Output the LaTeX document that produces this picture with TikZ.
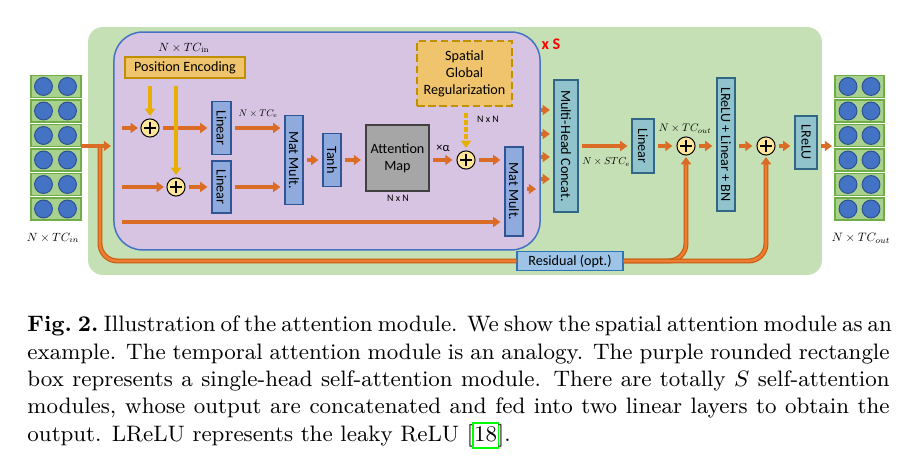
\documentclass[tikz,border=0pt]{standalone}
\usepackage{fontspec}
\setsansfont{Carlito}
\usetikzlibrary{arrows.meta,calc}
\definecolor{bggreen}{RGB}{197,224,180}
\definecolor{purp}{RGB}{214,196,226}
\definecolor{pblue}{RGB}{68,114,196}
\definecolor{cellg}{RGB}{169,209,142}
\definecolor{cellgd}{RGB}{112,173,71}
\definecolor{dotb}{RGB}{68,114,196}
\definecolor{dotbd}{RGB}{47,82,143}
\definecolor{goldf}{RGB}{240,196,108}
\definecolor{goldd}{RGB}{191,144,0}
\definecolor{goldarr}{RGB}{232,174,0}
\definecolor{oran}{RGB}{218,108,38}
\definecolor{orand}{RGB}{197,90,17}
\definecolor{oranm}{RGB}{237,125,49}
\definecolor{boxb}{RGB}{143,170,220}
\definecolor{boxbd}{RGB}{47,85,151}
\definecolor{tealb}{RGB}{145,195,205}
\definecolor{tealbd}{RGB}{49,102,135}
\definecolor{attg}{RGB}{166,166,166}
\definecolor{attgd}{RGB}{64,64,64}
\definecolor{plusy}{RGB}{255,230,153}
\definecolor{resb}{RGB}{157,195,230}
\definecolor{resbd}{RGB}{46,117,182}
\definecolor{linkg}{RGB}{0,255,0}
\newcommand\citebox[1]{\begingroup\setlength\fboxsep{0.2pt}\setlength\fboxrule{0.75pt}\fcolorbox{linkg}{white}{\vphantom{[]}#1}\endgroup}
\newcommand\ml[2]{\scalebox{#1}{$#2$}}
\tikzset{
  lbl/.style={font=\sffamily\fontsize{5.7pt}{6.8pt}\selectfont},
  bbox/.style={draw=boxbd, fill=boxb, line width=0.5pt, inner sep=0pt, lbl},
  tbox/.style={draw=tealbd, fill=tealb, line width=0.5pt, inner sep=0pt, lbl},
  oarr/.style={draw=oran, line width=1.5pt, -{Triangle[length=2.9pt,width=4pt]}, shorten >=1.6pt, shorten <=1.2pt},
  oarrfree/.style={draw=oran, line width=1.5pt, -{Triangle[length=2.9pt,width=4pt]}},
  garr/.style={draw=goldarr, line width=1.5pt, -{Triangle[length=2.9pt,width=4pt]}, shorten >=1pt},
  pipe/.style={draw=orand, line width=0.45pt, double=oranm, double distance=1.1pt, rounded corners=7pt},
  mlbl/.style={font=\fontsize{10pt}{12pt}\selectfont, inner sep=0pt},
  slbl/.style={font=\sffamily\fontsize{4pt}{5pt}\selectfont, inner sep=0pt},
  plusn/.style={circle, draw=black, line width=0.4pt, fill=plusy, minimum size=7.3pt, inner sep=0pt,
    path picture={\draw[line width=0.45pt] ([xshift=-2.3pt]path picture bounding box.center) -- ([xshift=2.3pt]path picture bounding box.center);
                  \draw[line width=0.45pt] ([yshift=-2.3pt]path picture bounding box.center) -- ([yshift=2.3pt]path picture bounding box.center);}},
  cell/.style={draw=cellgd, fill=cellg, line width=0.6pt},
  dot/.style={draw=dotbd, fill=dotb, line width=0.4pt},
}
\begin{document}
\begin{tikzpicture}[x=0.4025pt,y=-0.4025pt]
\useasboundingbox (0,0) rectangle (908,468);
\fill[white] (0,0) rectangle (908,468);

% backgrounds
\node[fill=bggreen, rounded corners=6pt, minimum width=295.4pt, minimum height=99.8pt, inner sep=0pt] (bg) at (455,151) {};
\node[draw=pblue, fill=purp, line width=0.6pt, rounded corners=11.5pt, minimum width=171.5pt, minimum height=87.7pt, inner sep=0pt] (sam) at (327,141) {};
\node[font=\sffamily\bfseries\fontsize{6.5pt}{7pt}\selectfont, text=red, inner sep=0pt] (xs) at (551,44) {x S};

% input / output stacks
\foreach \i in {0,...,5} {
  \pgfmathsetmacro\yy{86.5+24.5*\i}
  \draw[cell] (31,{\yy-11}) rectangle (81,{\yy+11});
  \draw[dot] (43.5,\yy) circle (3.6pt);
  \draw[dot] (67.5,\yy) circle (3.6pt);
  \draw[cell] (835,{\yy-11}) rectangle (884,{\yy+11});
  \draw[dot] (848,\yy) circle (3.6pt);
  \draw[dot] (871,\yy) circle (3.6pt);
}
\node[mlbl] (lin) at (53,238) {\ml{0.48}{N\times TC_{in}}};
\node[mlbl] (lout) at (861,238) {\ml{0.49}{N\times TC_{out}}};

% nodes
\node[draw=goldd, fill=goldf, line width=0.5pt, minimum width=48.3pt, minimum height=8.45pt, inner sep=0pt, lbl] (pe) at (185,67.5) {Position Encoding};
\node[mlbl] (lpe) at (184,48) {\ml{0.48}{N\times TC_{\mathrm{in}}}};
\node[plusn] (p1) at (150,128) {};
\node[plusn] (p2) at (176,187) {};
\node[bbox, minimum width=7.65pt, minimum height=21.3pt] (lin1) at (221.5,128) {\rotatebox{-90}{Linear}};
\node[bbox, minimum width=7.65pt, minimum height=20.9pt] (lin2) at (221.5,187) {\rotatebox{-90}{Linear}};
\node[bbox, minimum width=7.25pt, minimum height=35.8pt] (mm1) at (294,160) {\rotatebox{-90}{Mat Mult.}};
\node[bbox, minimum width=7.25pt, minimum height=21.3pt] (tanh) at (332,160) {\rotatebox{-90}{Tanh}};
\node[draw=attgd, fill=attg, line width=0.8pt, minimum width=25.4pt, minimum height=26.6pt, inner sep=0pt, lbl, align=center] (att) at (397.5,158) {Attention\\Map};
\node[slbl] (lnn1) at (398,198) {N x N};
\node[plusn] (p3) at (466,160) {};
\node[draw=goldd, dashed, dash pattern=on 3pt off 1.5pt, fill=goldf, line width=0.6pt, minimum width=38.2pt, minimum height=26.2pt, inner sep=0pt, lbl, align=center] (sgr) at (464.5,73.5) {Spatial\\Global\\Regularization};
\node[slbl] (lnn2) at (488,119) {N x N};
\node[font=\sffamily\fontsize{5pt}{6pt}\selectfont, inner sep=0pt] (lalpha) at (443,148) {×α};
\node[bbox, minimum width=7.25pt, minimum height=35.8pt] (mm2) at (514,191.5) {\rotatebox{-90}{Mat Mult.}};
\node[tbox, minimum width=9.66pt, minimum height=53.1pt] (cat) at (566,146) {\rotatebox{-90}{Multi-Head Concat.}};
\node[tbox, minimum width=8.86pt, minimum height=21.7pt] (lin3) at (643,146) {\rotatebox{-90}{Linear}};
\node[plusn] (p4) at (686,146) {};
\node[tbox, minimum width=7.25pt, minimum height=53.5pt] (lbn) at (726,144.5) {\rotatebox{-90}{LReLU + Linear + BN}};
\node[plusn] (p5) at (766,146) {};
\node[tbox, minimum width=8.86pt, minimum height=21.3pt] (lrelu) at (806,142.5) {\rotatebox{-90}{LReLU}};
\node[draw=resbd, fill=resb, line width=0.5pt, minimum width=42.7pt, minimum height=7.65pt, inner sep=0pt, lbl] (res) at (570,261) {Residual (opt.)};
\node[mlbl] (lte) at (258,114) {\ml{0.39}{N\times TC_{\mathrm{e}}}};
\node[mlbl] (lstc) at (606,162) {\ml{0.41}{N\times STC_{\mathrm{e}}}};
\node[mlbl] (ltco) at (685,129) {\ml{0.44}{N\times TC_{out}}};

% free coordinates
\coordinate (inE) at (81,146);
\coordinate (inT) at (111,146);
\coordinate (jn) at (100,146);
\coordinate (a1) at (122,128);
\coordinate (a2) at (122,187);
\coordinate (a3) at (122,222);
\coordinate (m2o) at (536,189);
\coordinate (c1) at (541,110);
\coordinate (c2) at (541,134);
\coordinate (c3) at (541,157);
\coordinate (c4) at (541,179);
\coordinate (outW) at (832,146);

% residual pipes
\draw[pipe] (jn) -- (jn |- res.west) -- (res.west);
\draw[pipe] (res.east) -- (res.east -| p4) -- ($(p4.south)+(0,8)$);
\draw[pipe] (res.east) -- (res.east -| p5) -- ($(p5.south)+(0,8)$);
\draw[oarrfree, shorten >=0.6pt] ($(p4.south)+(0,9)$) -- (p4.south);
\draw[oarrfree, shorten >=0.6pt] ($(p5.south)+(0,9)$) -- (p5.south);

% arrows
\draw[oarrfree] (inE) -- (inT);
\draw[oarrfree, shorten >=1pt] (a1) -- (p1.west);
\draw[oarrfree, shorten >=1pt] (a2) -- (p2.west);
\draw[oarr] (p1.east) -- (lin1.west);
\draw[oarr] (p2.east) -- (lin2.west);
\draw[garr] ($(pe.south -| p1)+(0,7)$) -- (p1.north);
\draw[garr] ($(pe.south -| p2)+(0,7)$) -- (p2.north);
\draw[oarr] (lin1.east) -- (lin1.east -| mm1.west);
\draw[oarr] (lin2.east) -- (lin2.east -| mm1.west);
\draw[oarr] (mm1.east |- tanh) -- (tanh.west);
\draw[oarr] (tanh.east) -- (tanh.east -| att.west);
\draw[oarr] (att.east |- p3) -- (p3.west);
\draw[draw=goldarr, line width=1.5pt, dash pattern=on 2pt off 0.8pt, shorten >=1pt] ($(sgr.south -| p3)+(0,6)$) -- ($(p3.north)+(0,-6)$);
\draw[garr] ($(p3.north)+(0,-7)$) -- (p3.north);
\draw[oarr] (p3.east) -- (p3 -| mm2.west);
\draw[oarrfree, shorten >=1.6pt] (a3) -- (a3 -| mm2.west);
\draw[oarrfree, shorten <=1.2pt] (mm2.east |- m2o) -- (m2o);
\foreach \c in {c1,c2,c3,c4} \draw[oarrfree, shorten >=1.4pt] (\c) -- (\c -| cat.west);
\draw[oarr] (cat.east) -- (lin3.west);
\draw[oarr] (lin3.east) -- (p4.west);
\draw[oarr] (p4.east) -- (p4 -| lbn.west);
\draw[oarr] (lbn.east |- p5) -- (p5.west);
\draw[oarr] (p5.east) -- (p5 -| lrelu.west);
\draw[oarrfree, shorten <=1.2pt] (lrelu.east |- p5) -- (outW);

% caption
\node[anchor=north west, inner sep=0pt, align=left, font=\fontsize{9pt}{11pt}\selectfont] (cap) at (27,315.5) {%
\hbox to 347pt{\textbf{Fig.\ 2.}\ Illustration of the attention module. We show the spatial attention module as an}\\
\hbox to 347pt{example. The temporal attention module is an analogy. The purple rounded rectangle}\\
\hbox to 347pt{box represents a single-head self-attention module. There are totally $S$ self-attention}\\
\hbox to 347pt{modules, whose output are concatenated and fed into two linear layers to obtain the}\\
output. LReLU represents the leaky ReLU [\kern-0.6pt\citebox{18}\kern-0.6pt].};
\end{tikzpicture}
\end{document}
